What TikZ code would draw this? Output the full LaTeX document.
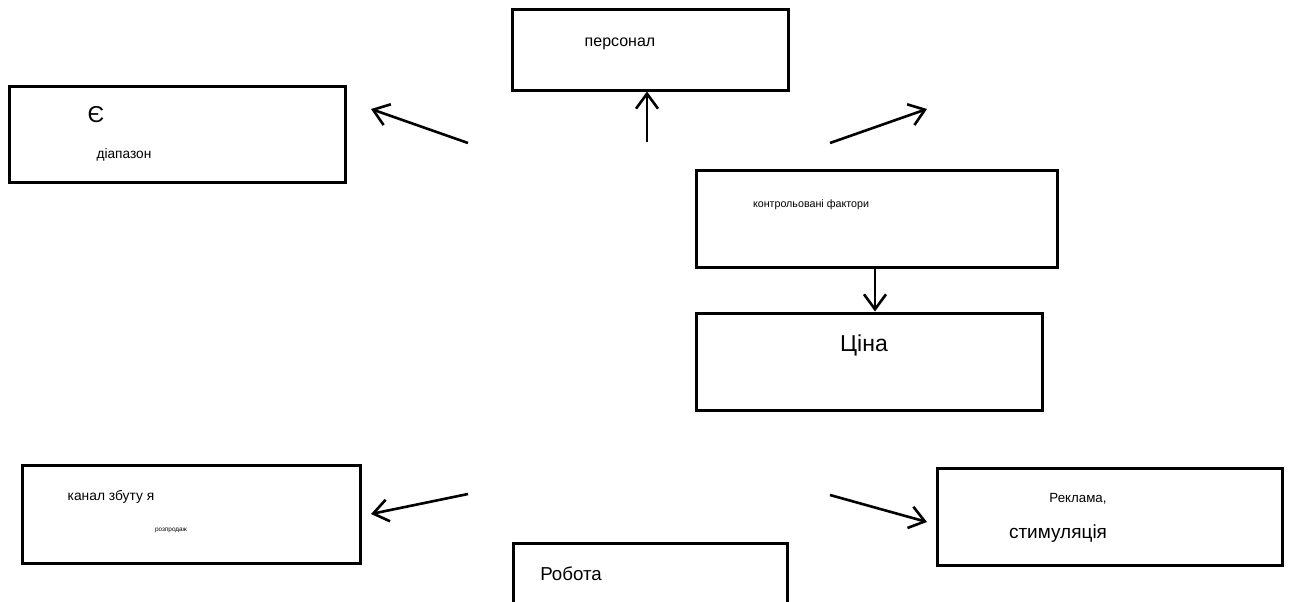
\documentclass[tikz,border=0pt]{standalone}
\usepackage{fontspec}
\setmainfont{Liberation Sans}
\usetikzlibrary{arrows.meta}
\begin{document}
\begin{tikzpicture}[
x=1pt,
y=-1pt,
box/.style={%
draw,
line width=3pt,
inner sep=0pt,
},
txt/.style={%
anchor=base,
inner sep=0pt,
},
arr/.style={%
line width=2.6pt,
arrows={-Straight Barb[length=15pt,width=22pt,line width=2.6pt]},
}
]
\clip(0,0)rectangle(1293,602);
\fill[white](0,0)rectangle(1293,602);
%% Boxes
\node[box, minimum width=336pt, minimum height=96pt]at(177,134)(range){};
\node[box, minimum width=276pt, minimum height=80pt]at(650,50)(staff){};
\node[box, minimum width=361pt, minimum height=97pt]at(876.5,218.5)(ctrl){};
\node[box, minimum width=346pt, minimum height=97pt]at(869,361.5)(price){};
\node[box, minimum width=338pt, minimum height=98pt]at(191,514)(chan){};
\node[box, minimum width=345pt, minimum height=97pt]at(1109.5,516.5)(promo){};
\node[box, minimum width=274pt, minimum height=70pt]at(650,578)(work){};
%% Texts
\node[txt, font=\fontsize{23}{25}\selectfont]at(96,122)(t_ye){Є};
\node[txt, font=\fontsize{13.7}{15}\selectfont]at(124,158)(t_range){діапазон};
\node[txt, font=\fontsize{16}{18}\selectfont]at(620,47)(t_staff){персонал};
\node[txt, font=\fontsize{10.7}{12}\selectfont]at(811,207)(t_ctrl){контрольовані фактори};
\node[txt, font=\fontsize{23}{25}\selectfont]at(864,351)(t_price){Ціна};
\node[txt, font=\fontsize{13.8}{15}\selectfont]at(111,500)(t_chan){канал збуту я};
\node[txt, font=\fontsize{6.4}{7}\selectfont]at(171,531)(t_sale){розпродаж};
\node[txt, font=\fontsize{13.3}{15}\selectfont]at(1078,502)(t_ad){Реклама,};
\node[txt, font=\fontsize{19}{21}\selectfont]at(1058,538)(t_stim){стимуляція};
\node[txt, font=\fontsize{18.7}{20}\selectfont]at(571,580)(t_work){Робота};
%% Arrows
\coordinate(a_ul)at(468,143);
\coordinate(h_ul)at(371,109);
\coordinate(a_up)at(647,142);
\coordinate(a_ur)at(830,143);
\coordinate(h_ur)at(927,109);
\coordinate(a_ll)at(468,494);
\coordinate(h_ll)at(371,514);
\coordinate(a_lr)at(830,495);
\coordinate(h_lr)at(927,522);
\draw[arr](a_ul)--(h_ul);
\draw[arr](a_up)--(a_up|-staff.south);
\draw[arr](a_ur)--(h_ur);
\draw[arr](ctrl.south-|875,0)--(price.north-|875,0);
\draw[arr](a_ll)--(h_ll);
\draw[arr](a_lr)--(h_lr);
\end{tikzpicture}
\end{document}
